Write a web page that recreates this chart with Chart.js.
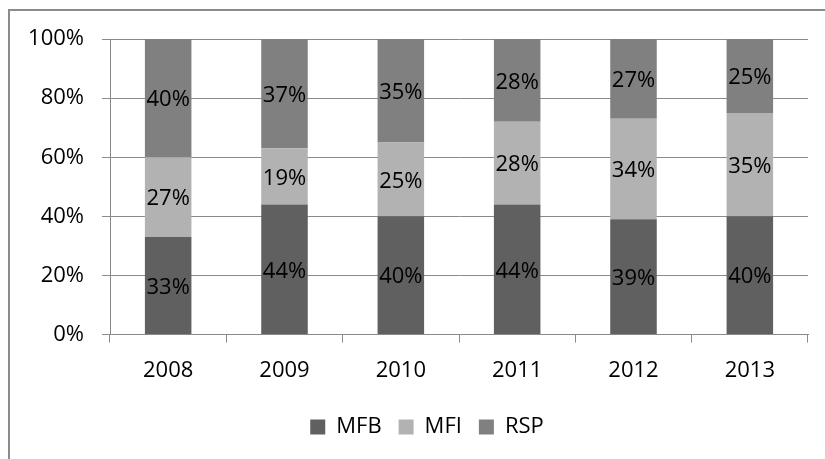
<!DOCTYPE html>
<html>
<head>
<meta charset="utf-8">
<script src="https://cdn.jsdelivr.net/npm/chart.js@4.4.1/dist/chart.umd.min.js"></script>
<style>
  html, body { margin: 0; padding: 0; background: #ffffff; }
  #wrap { width: 825px; height: 459px; }
</style>
</head>
<body>
<div id="wrap"><canvas id="chart" width="825" height="459"></canvas></div>
<script>
// Share of each provider type per year (percent)
const years = ['2008', '2009', '2010', '2011', '2012', '2013'];
const mfb = [33, 44, 40, 44, 39, 40];
const mfi = [27, 19, 25, 28, 34, 35];
const rsp = [40, 37, 35, 28, 27, 25];
const yTicks = [0, 20, 40, 60, 80, 100];

const FONT = 'Open Sans';
const GRID = '#8a8a8a';
const LEGEND_SHIFT = 23;

// Frame lines along the top and left edge of the figure
const framePlugin = {
  id: 'frame',
  beforeDraw(chart) {
    const ctx = chart.ctx;
    ctx.save();
    ctx.fillStyle = '#ffffff';
    ctx.fillRect(0, 0, chart.width, chart.height);
    ctx.strokeStyle = '#8c8c8c';
    ctx.lineWidth = 2;
    ctx.beginPath();
    ctx.moveTo(8, 10);
    ctx.lineTo(chart.width, 10);
    ctx.moveTo(9, 9);
    ctx.lineTo(9, chart.height);
    ctx.stroke();
    ctx.restore();
  }
};

// Nudge the legend so it sits centred under the figure frame
const legendNudge = {
  id: 'legendNudge',
  afterLayout(chart) {
    if (chart.legend) {
      chart.legend.left += LEGEND_SHIFT;
      chart.legend.right += LEGEND_SHIFT;
    }
  }
};

// Value labels centred in each stacked segment
const segmentLabels = {
  id: 'segmentLabels',
  afterDatasetsDraw(chart) {
    const ctx = chart.ctx;
    ctx.save();
    ctx.font = '22px "' + FONT + '"';
    ctx.fillStyle = '#000000';
    ctx.textAlign = 'center';
    ctx.textBaseline = 'middle';
    chart.data.datasets.forEach((ds, di) => {
      const meta = chart.getDatasetMeta(di);
      meta.data.forEach((bar, i) => {
        const { x, y, base } = bar.getProps(['x', 'y', 'base'], true);
        ctx.fillText(ds.data[i] + '%', x, (y + base) / 2 + 2);
      });
    });
    ctx.restore();
  }
};

new Chart(document.getElementById('chart'), {
  type: 'bar',
  data: {
    labels: years,
    datasets: [
      { label: 'MFB', data: mfb, backgroundColor: '#606060' },
      { label: 'MFI', data: mfi, backgroundColor: '#b2b2b2' },
      { label: 'RSP', data: rsp, backgroundColor: '#808080' }
    ]
  },
  options: {
    responsive: false,
    animation: false,
    events: [],
    layout: { padding: { top: 39, right: 17, bottom: 11, left: 0 } },
    datasets: { bar: { barPercentage: 0.4, categoryPercentage: 1.0, borderWidth: 0 } },
    scales: {
      x: {
        stacked: true,
        grid: {
          offset: true,
          drawOnChartArea: false,
          drawTicks: true,
          tickLength: 8,
          color: GRID
        },
        border: { color: GRID, width: 1 },
        ticks: {
          color: '#000000',
          font: { family: FONT, size: 22 },
          padding: 15,
          maxRotation: 0
        }
      },
      y: {
        stacked: true,
        min: 0,
        max: 100,
        afterBuildTicks(scale) {
          scale.ticks = yTicks.map(v => ({ value: v }));
        },
        afterFit(scale) { scale.width = 110; },
        grid: { color: GRID, tickLength: 8, lineWidth: 1 },
        border: { color: GRID, width: 1 },
        ticks: {
          color: '#000000',
          font: { family: FONT, size: 22 },
          padding: 18,
          callback: v => v + '%'
        }
      }
    },
    plugins: {
      legend: {
        position: 'bottom',
        labels: {
          color: '#000000',
          font: { family: FONT, size: 22 },
          boxWidth: 15,
          boxHeight: 15,
          padding: 17
        }
      },
      tooltip: { enabled: false },
      title: { display: false }
    }
  },
  plugins: [framePlugin, legendNudge, segmentLabels]
});
</script>
</body>
</html>
